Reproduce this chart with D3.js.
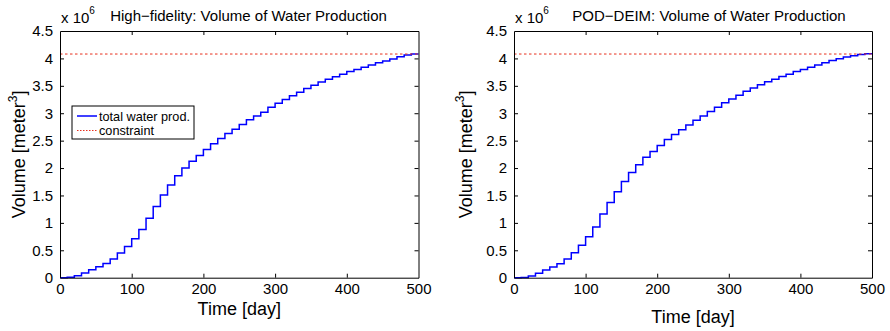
<!DOCTYPE html>
<html>
<head>
<meta charset="utf-8">
<script src="https://cdn.jsdelivr.net/npm/d3@7"></script>
<style>
  html, body { margin: 0; padding: 0; background: #fff; }
  svg { display: block; }
  text { font-family: "Liberation Sans", Arial, Helvetica, sans-serif; fill: #000; }
</style>
</head>
<body>
<svg id="chart" width="890" height="331"></svg>
<script>
// ---- Data (values in units of 1e6 m^3), step every 10 days ----
const stepDays = [0,10,20,30,40,50,60,70,80,90,100,110,120,130,140,150,160,170,180,190,200,210,220,230,240,250,260,270,280,290,300,310,320,330,340,350,360,370,380,390,400,410,420,430,440,450,460,470,480,490,500];
const highFidelity = [0,0.01,0.035,0.085,0.146,0.20,0.26,0.34,0.45,0.57,0.71,0.88,1.085,1.30,1.51,1.69,1.86,2.0,2.125,2.23,2.34,2.445,2.54,2.63,2.71,2.795,2.88,2.95,3.02,3.11,3.18,3.25,3.32,3.385,3.45,3.51,3.57,3.62,3.665,3.71,3.76,3.80,3.84,3.88,3.92,3.955,3.99,4.03,4.06,4.08,4.08];
const podDeim = [0,0.005,0.03,0.08,0.14,0.195,0.255,0.34,0.455,0.59,0.745,0.925,1.16,1.37,1.57,1.755,1.92,2.06,2.195,2.30,2.41,2.52,2.61,2.70,2.785,2.87,2.95,3.03,3.11,3.19,3.26,3.33,3.40,3.46,3.52,3.575,3.62,3.67,3.71,3.76,3.80,3.84,3.88,3.92,3.96,3.995,4.025,4.05,4.07,4.085,4.085];
const constraintValue = 4.08;
const xTicks = [0,100,200,300,400,500];
const yTicks = [0,0.5,1,1.5,2,2.5,3,3.5,4,4.5];
const titles = ["High\u2212fidelity: Volume of Water Production", "POD\u2212DEIM: Volume of Water Production"];
const legendLabels = ["total water prod.", "constraint"];

const svg = d3.select("#chart");

const panels = [
  { left: 60, right: 418.5, top: 31, bottom: 277.7, data: highFidelity, title: titles[0], titleX: 248.5, xLabelY: 314.5, yLabelX: 25, legend: true },
  { left: 514, right: 872, top: 31, bottom: 277.7, data: podDeim, title: titles[1], titleX: 709, xLabelY: 323, yLabelX: 472, legend: false }
];

const tickLen = 4;
const fontTick = 15;

panels.forEach(p => {
  const x = d3.scaleLinear().domain([0, 500]).range([p.left, p.right]);
  const y = d3.scaleLinear().domain([0, 4.5]).range([p.bottom, p.top]);
  const g = svg.append("g");

  // Curve
  const line = d3.line().x((d, i) => x(stepDays[i])).y(d => y(d)).curve(d3.curveStepAfter);
  g.append("path").datum(p.data)
    .attr("d", line).attr("fill", "none").attr("stroke", "#0000ff").attr("stroke-width", 1.5);

  // Constraint
  g.append("line")
    .attr("x1", x(0)).attr("x2", x(500)).attr("y1", y(constraintValue)).attr("y2", y(constraintValue))
    .attr("stroke", "#e8301e").attr("stroke-width", 1).attr("stroke-dasharray", "2.5,2.5");

  // Axes (inward ticks, box)
  const axB = d3.axisBottom(x).tickValues(xTicks).tickSizeInner(-tickLen).tickSizeOuter(0).tickPadding(6).tickFormat(d3.format("d"));
  const axT = d3.axisTop(x).tickValues(xTicks).tickSizeInner(-tickLen).tickSizeOuter(0).tickFormat("");
  const axL = d3.axisLeft(y).tickValues(yTicks).tickSizeInner(-tickLen).tickSizeOuter(0).tickPadding(7).tickFormat(d => d3.format("")(d));
  const axR = d3.axisRight(y).tickValues(yTicks).tickSizeInner(-tickLen).tickSizeOuter(0).tickFormat("");

  const gb = g.append("g").attr("transform", `translate(0,${p.bottom})`).call(axB);
  const gt = g.append("g").attr("transform", `translate(0,${p.top})`).call(axT);
  const gl = g.append("g").attr("transform", `translate(${p.left},0)`).call(axL);
  const gr = g.append("g").attr("transform", `translate(${p.right},0)`).call(axR);
  [gb, gt, gl, gr].forEach(a => {
    a.selectAll("path").attr("stroke", "#000").attr("stroke-width", 1);
    a.selectAll("line").attr("stroke", "#000").attr("stroke-width", 1);
    a.selectAll("text").style("font-family", "'Liberation Sans', Arial, sans-serif").style("font-size", fontTick + "px").attr("fill", "#000");
  });
  [gb, gt].forEach(a => a.selectAll(".tick").filter(d => d === 0 || d === 500).select("line").remove());
  [gl, gr].forEach(a => a.selectAll(".tick").filter(d => d === 0 || d === 4.5).select("line").remove());

  // Title
  g.append("text").attr("x", p.titleX).attr("y", 21).attr("text-anchor", "middle")
    .style("font-size", "15px").text(p.title);

  // Exponent label
  const ex = g.append("text").attr("x", p.left + 1).attr("y", 23).style("font-size", "15px");
  ex.append("tspan").text("x 10");
  ex.append("tspan").attr("dy", -9).style("font-size", "10px").text("6");

  // X label
  g.append("text").attr("x", (p.left + p.right) / 2).attr("y", p.xLabelY).attr("text-anchor", "middle")
    .style("font-size", "18px").text("Time [day]");

  // Y label
  const yl = g.append("text")
    .attr("transform", `translate(${p.yLabelX},${(p.top + p.bottom) / 2}) rotate(-90)`)
    .attr("text-anchor", "middle").style("font-size", "18px");
  yl.append("tspan").text("Volume [meter");
  yl.append("tspan").attr("dy", -8).style("font-size", "12px").text("3");
  yl.append("tspan").attr("dy", 8).text("]");

  // Legend
  if (p.legend) {
    const lg = g.append("g");
    lg.append("rect").attr("x", 72).attr("y", 106).attr("width", 122).attr("height", 33)
      .attr("fill", "#fff").attr("stroke", "#000").attr("stroke-width", 1);
    lg.append("line").attr("x1", 77).attr("x2", 97).attr("y1", 116).attr("y2", 116)
      .attr("stroke", "#0000ff").attr("stroke-width", 1.5);
    lg.append("line").attr("x1", 77).attr("x2", 97).attr("y1", 130.5).attr("y2", 130.5)
      .attr("stroke", "#e8301e").attr("stroke-width", 1).attr("stroke-dasharray", "1.5,1.5");
    lg.append("text").attr("x", 99).attr("y", 120.5).style("font-size", "12.7px").text(legendLabels[0]);
    lg.append("text").attr("x", 99).attr("y", 135).style("font-size", "12.7px").text(legendLabels[1]);
  }
});
</script>
</body>
</html>
